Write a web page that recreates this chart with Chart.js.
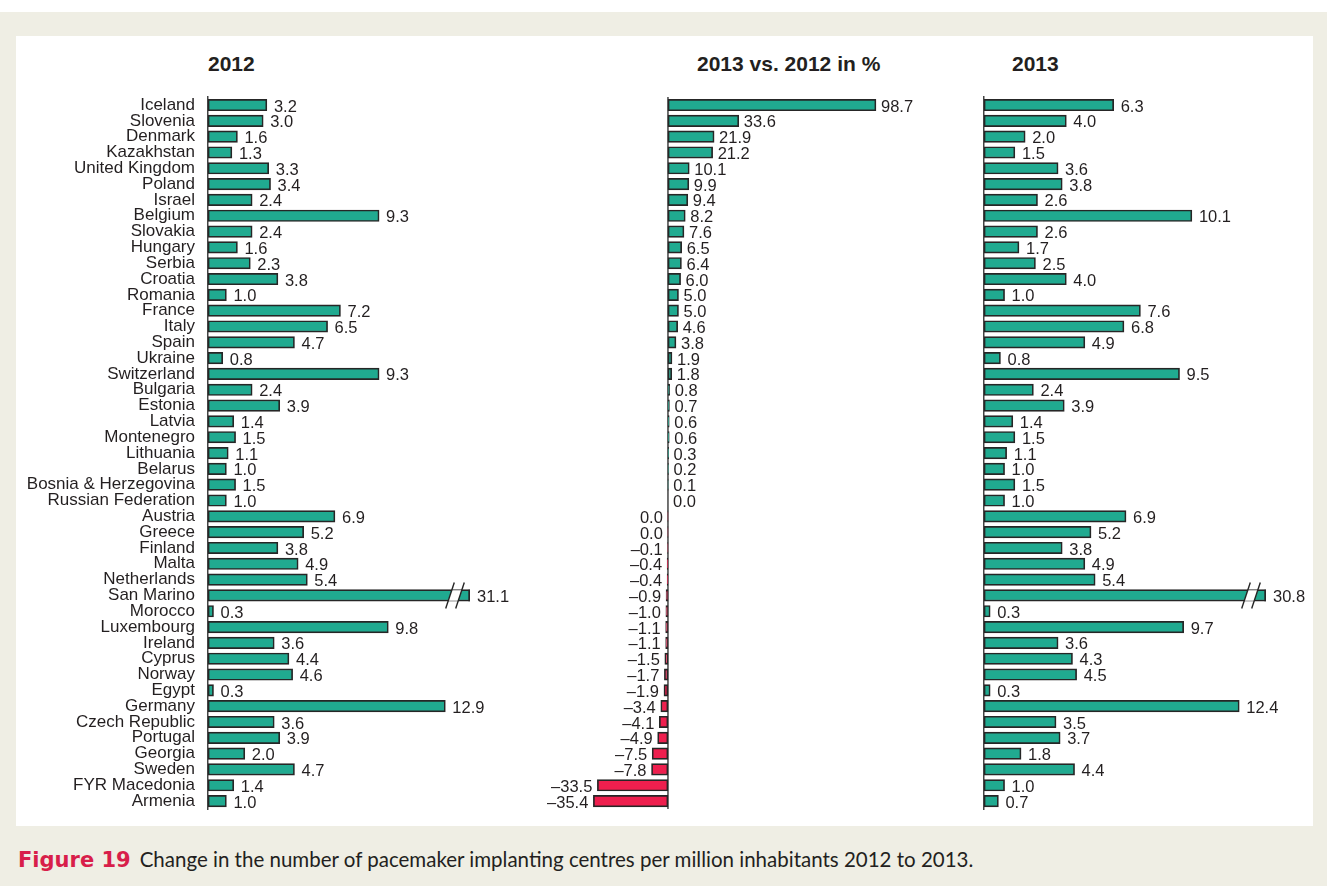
<!DOCTYPE html>
<html>
<head>
<meta charset="utf-8">
<script src="https://cdn.jsdelivr.net/npm/chart.js@4.4.1/dist/chart.umd.min.js"></script>
<style>
  body { margin: 0; background: #fff; }
  #page { position: relative; width: 1327px; height: 886px; background: #efeee4; overflow: hidden; }
  #topStrip { position: absolute; left: 0; top: 0; width: 1327px; height: 12px; background: #fff; }
  #panel { position: absolute; left: 16px; top: 36px; width: 1297px; height: 790px; background: #fff; }
  canvas { position: absolute; }
  .head { position: absolute; top: 52px; line-height: 24px; font: bold 21px "Liberation Sans", Arial, sans-serif; color: #231f20; white-space: nowrap; }
  #caption { position: absolute; left: 18px; top: 847px; line-height: 28px; font: 20.5px Lato, sans-serif; color: #231f20; white-space: nowrap; }
  #caption b { color: #d81e4a; font: bold 21px "DejaVu Sans", sans-serif; margin-right: 9px; }
</style>
</head>
<body>
<div id="page">
  <div id="topStrip"></div>
  <div id="panel"></div>
  <div class="head" style="left:208px">2012</div>
  <div class="head" style="left:697px">2013 vs. 2012 in %</div>
  <div class="head" style="left:1012px">2013</div>
  <canvas id="chart2012" width="514" height="730" style="left:16px; top:86px"></canvas>
  <canvas id="chartPct" width="400" height="730" style="left:530px; top:86px"></canvas>
  <canvas id="chart2013" width="340" height="730" style="left:974px; top:86px"></canvas>
  <div id="caption"><b>Figure 19</b>Change in the number of pacemaker implanting centres per million inhabitants 2012 to 2013.</div>
</div>
<script>
const countries = [
  'Iceland', 'Slovenia', 'Denmark', 'Kazakhstan', 'United Kingdom', 'Poland', 'Israel',
  'Belgium', 'Slovakia', 'Hungary', 'Serbia', 'Croatia', 'Romania', 'France', 'Italy',
  'Spain', 'Ukraine', 'Switzerland', 'Bulgaria', 'Estonia', 'Latvia', 'Montenegro',
  'Lithuania', 'Belarus', 'Bosnia & Herzegovina', 'Russian Federation', 'Austria', 'Greece',
  'Finland', 'Malta', 'Netherlands', 'San Marino', 'Morocco', 'Luxembourg', 'Ireland',
  'Cyprus', 'Norway', 'Egypt', 'Germany', 'Czech Republic', 'Portugal', 'Georgia',
  'Sweden', 'FYR Macedonia', 'Armenia'
];

// centres per million, 2012
const centres2012 = [
  3.2, 3.0, 1.6, 1.3, 3.3, 3.4, 2.4, 9.3, 2.4, 1.6, 2.3, 3.8, 1.0, 7.2, 6.5,
  4.7, 0.8, 9.3, 2.4, 3.9, 1.4, 1.5, 1.1, 1.0, 1.5, 1.0, 6.9, 5.2,
  3.8, 4.9, 5.4, 31.1, 0.3, 9.8, 3.6, 4.4, 4.6, 0.3, 12.9, 3.6, 3.9, 2.0,
  4.7, 1.4, 1.0
];

// change 2013 vs 2012 in % (Austria, Greece printed 0.0 but sit on the negative side)
const changePct = [
  98.7, 33.6, 21.9, 21.2, 10.1, 9.9, 9.4, 8.2, 7.6, 6.5, 6.4, 6.0, 5.0, 5.0, 4.6,
  3.8, 1.9, 1.8, 0.8, 0.7, 0.6, 0.6, 0.3, 0.2, 0.1, 0.0, -0.04, -0.04,
  -0.1, -0.4, -0.4, -0.9, -1.0, -1.1, -1.1, -1.5, -1.7, -1.9, -3.4, -4.1, -4.9, -7.5,
  -7.8, -33.5, -35.4
];

// centres per million, 2013
const centres2013 = [
  6.3, 4.0, 2.0, 1.5, 3.6, 3.8, 2.6, 10.1, 2.6, 1.7, 2.5, 4.0, 1.0, 7.6, 6.8,
  4.9, 0.8, 9.5, 2.4, 3.9, 1.4, 1.5, 1.1, 1.0, 1.5, 1.0, 6.9, 5.2,
  3.8, 4.9, 5.4, 30.8, 0.3, 9.7, 3.6, 4.3, 4.5, 0.3, 12.4, 3.5, 3.7, 1.8,
  4.4, 1.0, 0.7
];

const TEAL = '#20aa90';
const RED = '#ee1f4e';
const EDGE = '#262626';
const TEXT = '#231f20';
const FONT = '"Liberation Sans", Arial, sans-serif';
const brokenIndex = countries.indexOf('San Marino');

const fmt = v => (Math.abs(v) < 0.05 ? '0.0' : v.toFixed(1).replace('-', '\u2013'));

// value labels next to each bar
function makeLabels(gap) {
  return {
    id: 'valueLabels',
    afterDatasetsDraw(chart) {
      const { ctx, chartArea } = chart;
      const values = chart.data.datasets[0].data;
      ctx.save();
      ctx.font = '16.5px ' + FONT;
      ctx.fillStyle = TEXT;
      ctx.textBaseline = 'middle';
      chart.getDatasetMeta(0).data.forEach((bar, i) => {
        const v = values[i];
        if (v < 0) {
          ctx.textAlign = 'right';
          ctx.fillText(fmt(v), Math.max(bar.x, chartArea.left) - gap, bar.y + 2);
        } else {
          ctx.textAlign = 'left';
          ctx.fillText(fmt(v), Math.min(bar.x, chartArea.right) + gap, bar.y + 2);
        }
      });
      ctx.restore();
    }
  };
}

// "//" marks on the bar that runs past the axis end
const breakMarks = {
  id: 'breakMarks',
  afterDatasetsDraw(chart) {
    const { ctx, chartArea } = chart;
    const bar = chart.getDatasetMeta(0).data[brokenIndex];
    const xe = chartArea.right;
    const h = bar.height / 2;
    ctx.save();
    // closing edge of the clipped bar
    ctx.strokeStyle = EDGE;
    ctx.lineWidth = 1.7;
    ctx.beginPath();
    ctx.moveTo(xe - 0.85, bar.y - h);
    ctx.lineTo(xe - 0.85, bar.y + h);
    ctx.stroke();
    // white gap between the slashes
    const a = xe - 20, b = xe - 10, s = h / 3;
    ctx.fillStyle = '#fff';
    ctx.beginPath();
    ctx.moveTo(a - s, bar.y + h - 0.5);
    ctx.lineTo(a + s, bar.y - h + 0.5);
    ctx.lineTo(b + s, bar.y - h + 0.5);
    ctx.lineTo(b - s, bar.y + h - 0.5);
    ctx.closePath();
    ctx.fill();
    ctx.lineWidth = 1.4;
    [a, b].forEach(c => {
      ctx.beginPath();
      ctx.moveTo(c - 4.3, bar.y + 13);
      ctx.lineTo(c + 4.3, bar.y - 13);
      ctx.stroke();
    });
    ctx.restore();
  }
};

// vertical zero line for the % panel
const zeroLine = {
  id: 'zeroLine',
  beforeDatasetsDraw(chart) {
    const { ctx, chartArea, scales } = chart;
    const x = scales.x.getPixelForValue(0);
    ctx.save();
    ctx.strokeStyle = '#444';
    ctx.lineWidth = 1.5;
    ctx.beginPath();
    ctx.moveTo(x, chartArea.top);
    ctx.lineTo(x, chartArea.bottom);
    ctx.stroke();
    ctx.restore();
  }
};

function barDataset(values, colors) {
  return {
    data: values,
    backgroundColor: colors,
    borderColor: EDGE,
    borderWidth: 1.7,
    borderSkipped: false,
    barThickness: 11.5
  };
}

function baseOptions(xMin, xMax, padding, yAxis) {
  return {
    indexAxis: 'y',
    responsive: false,
    animation: false,
    layout: { padding },
    plugins: { legend: { display: false }, tooltip: { enabled: false } },
    scales: {
      x: { display: false, min: xMin, max: xMax },
      y: yAxis
    }
  };
}

// fixed width y axis, no extra room for half labels at the ends
const fixAxis = w => scale => {
  scale.width = w;
  scale.paddingTop = 0;
  scale.paddingBottom = 0;
};

// 2012 panel with country names
new Chart(document.getElementById('chart2012'), {
  type: 'bar',
  data: { labels: countries, datasets: [barDataset(centres2012, TEAL)] },
  options: baseOptions(0, 14.24, { top: 11.1, bottom: 7, right: 60, left: 0 }, {
    grid: { display: false, drawTicks: false },
    border: { display: true, color: '#444', width: 1.5 },
    ticks: { autoSkip: false, padding: 13, color: TEXT, font: { family: FONT, size: 17 } },
    afterFit: fixAxis(192)
  }),
  plugins: [makeLabels(7), breakMarks]
});

// % change panel
new Chart(document.getElementById('chartPct'), {
  type: 'bar',
  data: {
    labels: countries,
    datasets: [barDataset(changePct, changePct.map(v => (v < 0 ? RED : TEAL)))]
  },
  options: baseOptions(-36, 100, { top: 11.1, bottom: 7, right: 51.3, left: 62.1 }, { display: false }),
  plugins: [zeroLine, makeLabels(5)]
});

// 2013 panel
new Chart(document.getElementById('chart2013'), {
  type: 'bar',
  data: { labels: countries, datasets: [barDataset(centres2013, TEAL)] },
  options: baseOptions(0, 13.7, { top: 11.1, bottom: 7, right: 48, left: 0 }, {
    grid: { display: false, drawTicks: false },
    border: { display: true, color: '#444', width: 1.5 },
    ticks: { display: false },
    afterFit: fixAxis(10)
  }),
  plugins: [makeLabels(7), breakMarks]
});
</script>
</body>
</html>
